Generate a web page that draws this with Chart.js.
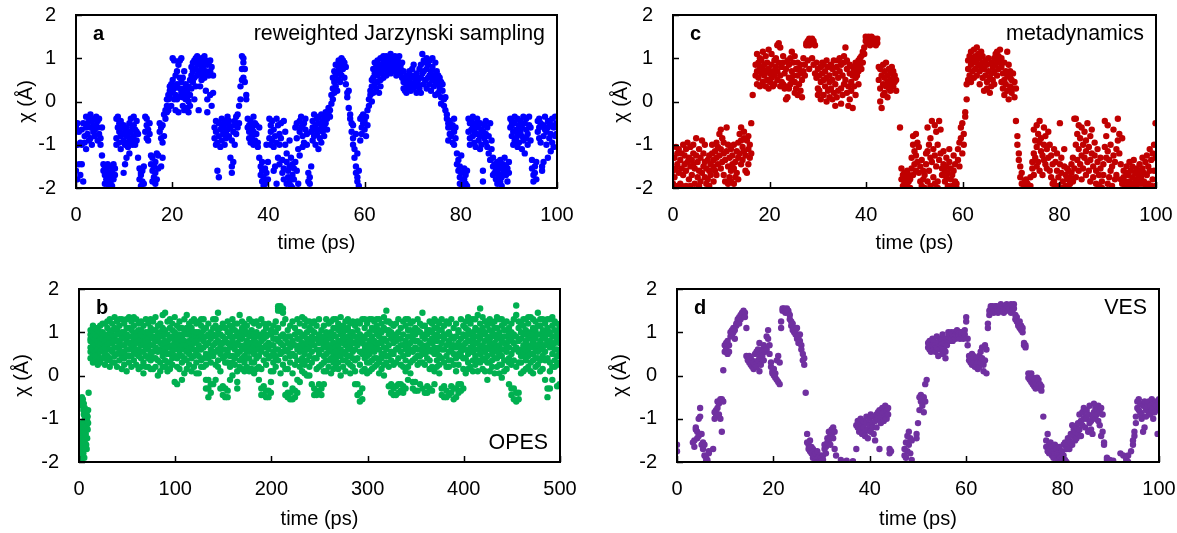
<!DOCTYPE html>
<html>
<head>
<meta charset="utf-8">
<script src="https://cdn.jsdelivr.net/npm/chart.js@4.4.1/dist/chart.umd.min.js"></script>
<style>
  body { margin: 0; background: #fff; width: 1177px; height: 533px; position: relative; overflow: hidden; }
  canvas { position: absolute; }
</style>
</head>
<body>
<canvas id="panelA" width="590" height="265" style="left:0;top:0"></canvas>
<canvas id="panelC" width="587" height="265" style="left:590px;top:0"></canvas>
<canvas id="panelB" width="590" height="263" style="left:0;top:270px"></canvas>
<canvas id="panelD" width="587" height="263" style="left:590px;top:270px"></canvas>
<script>
// axis ranges and ticks
const chiRange = [-2, 2];
const chiStep = 1;
const shortTime = [0, 100];
const shortStep = 20;
const longTime = [0, 500];
const longStep = 100;

// each row: [time (ps), chi values sampled around that time ...]
const jarzynskiRows = [
  [0.0,-0.6,-1.6],[0.3,-1.0,-1.8,-0.5],[0.6,-0.7,-1.45],[0.9,-0.95,-1.7],[1.2,-0.65,-1.45,-1.0],[1.5,-0.5,-1.85],
  [1.8,-0.8,-0.95],[2.1,-0.35,-0.6,-1.1],[2.4,-0.75,-0.5],[2.7,-0.4,-0.9],[3.0,-0.6,-0.85,-0.3],[3.3,-0.45,-1.0],
  [3.6,-0.7,-0.55],[3.9,-0.4,-0.8,-0.65],[4.2,-0.35,-0.55],[4.5,-0.6,-0.9,-0.45],[4.8,-0.75,-0.4],[5.1,-0.85,-1.0],
  [5.4,-0.6,-1.25],[5.7,-1.45,-1.6],[6.0,-1.5,-1.7,-1.9],[6.3,-1.55,-1.8],[6.6,-1.65,-1.45,-1.9],[6.9,-1.75,-1.95],
  [7.2,-1.5,-1.85],[7.5,-1.6,-1.7,-1.95],[7.8,-1.45,-1.8],[8.1,-1.55,-1.7],[8.4,-0.4,-1.0,-0.85],[8.7,-0.35,-0.6],
  [9.0,-0.5,-0.7,-0.95],[9.3,-0.45,-0.8,-1.1],[9.6,-0.75,-0.6],[9.9,-0.9,-0.55,-1.65],[10.2,-0.7,-1.0,-1.45],
  [10.5,-0.8,-0.6,-1.3],[10.8,-0.95,-1.05,-0.75],[11.1,-0.5,-0.85,-1.2],[11.4,-0.4,-0.7],[11.7,-0.6,-0.9,-1.0],
  [12.0,-0.35,-0.55,-0.8],[12.3,-0.65,-1.0],[12.6,-0.45,-0.7,-0.9],[12.9,-0.75,-1.3],[13.2,-1.55,-1.8],
  [13.5,-1.65,-1.95,-1.7],[13.8,-1.85,-1.6],[14.1,-1.5,-1.9],[14.4,-0.35,-0.7],[14.7,-0.55,-0.85,-0.4],
  [15.0,-0.65,-0.9],[15.3,-0.75,-0.5],[15.6,-1.25,-1.45],[15.9,-1.3,-1.6,-1.85],[16.2,-1.5,-1.75],
  [16.5,-1.4,-1.9,-1.65],[16.8,-1.8,-1.2],[17.1,-1.25,-1.55],[17.4,-0.5,-0.7],[17.7,-0.6,-0.85,-1.5],
  [18.0,-0.55,-0.95,-1.3],[18.3,-0.8,-0.3],[18.6,-0.4,-0.2],[18.9,-0.25,-0.1,0.05],[19.2,0.05,0.15,-0.2],
  [19.5,0.1,0.25,0.35],[19.8,0.2,0.4,-0.1],[20.1,0.25,0.5,1.0],[20.4,0.05,0.95,0.3],[20.7,0.6,0.15,-0.2],
  [21.0,0.4,0.7,0.05],[21.3,0.1,0.85,-0.25],[21.6,0.3,0.55,0.95],[21.9,0.2,1.0,0.45],[22.2,-0.1,0.1,0.55],
  [22.5,0.3,-0.2,0.7],[22.8,0.05,0.2,0.4],[23.1,-0.15,0.1,0.25],[23.4,0.0,-0.25,0.35],[23.7,0.15,0.5,-0.1],
  [24.0,0.6,0.3,0.8],[24.3,0.7,0.9,0.45],[24.6,0.95,0.55,0.05],[24.9,0.75,1.0,0.35],[25.2,0.6,0.85,1.05],
  [25.5,-0.2,0.9,0.7],[25.8,0.35,0.65,0.95],[26.1,0.5,1.0,0.8],[26.4,0.75,0.9,0.6],[26.7,1.05,0.85,0.55],
  [27.0,0.95,0.7,0.25],[27.3,-0.25,0.05,0.85],[27.6,0.9,0.6],[27.9,0.7,0.95,0.15],[28.2,0.8,-0.1],[28.5,0.6,0.2],
  [28.8,-0.6,-0.85],[29.1,-0.7,-1.0,-0.45],[29.4,-0.95,-1.6],[29.7,-0.5,-0.8,-1.75],[30.0,-0.65,-1.05],
  [30.3,-0.55,-0.9,-0.4],[30.6,-0.75,-0.6],[30.9,-0.45,-1.0],[31.2,-0.7,-0.5,-0.85],[31.5,-0.35,-0.65],
  [31.8,-0.55,-0.8,-0.45],[32.1,-1.3,-0.6],[32.4,-1.5,-1.65,-0.9],[32.7,-0.7,-1.4],[33.0,-0.45,-0.55,-1.0],
  [33.3,-0.35,-0.75],[33.6,-0.6,-0.3],[33.9,-0.1,-0.5],[34.2,0.05,0.35],[34.5,0.5,0.75,1.05],[34.8,0.9,1.0,0.55],
  [35.1,0.75,0.45],[35.4,0.05,0.15],[35.7,-0.4,-0.6],[36.0,-0.7,-0.55,-0.85],[36.3,-0.45,-0.95],[36.6,-0.6,-0.8],
  [36.9,-0.35,-0.7,-1.0],[37.2,-0.5,-0.9],[37.5,-0.75,-0.55],[37.8,-0.95,-1.05],[38.1,-1.3,-0.6],[38.4,-1.5,-1.7],
  [38.7,-1.6,-1.85,-1.4],[39.0,-1.75,-1.95],[39.3,-1.55,-1.9],[39.6,-1.65,-1.0],[39.9,-1.4,-1.8],[40.2,-0.4,-0.85],
  [40.5,-0.55,-1.0,-0.7],[40.8,-0.9,-0.45],[41.1,-0.65,-1.05,-1.6],[41.4,-0.8,-1.5],[41.7,-0.4,-1.9,-0.95],
  [42.0,-0.55,-1.3],[42.3,-0.75,-1.45,-1.0],[42.6,-0.5,-0.85],[42.9,-1.35,-1.65],[43.2,-0.45,-1.55,-1.8],
  [43.5,-0.7,-1.0],[43.8,-1.2,-1.4,-1.9],[44.1,-1.6,-1.75],[44.4,-1.5,-1.85,-0.9],[44.7,-1.3,-1.95],
  [45.0,-1.7,-1.45,-2.0],[45.3,-1.55,-1.8],[45.6,-0.6,-1.4],[45.9,-0.5,-0.85,-1.6],[46.2,-1.1,-1.9],
  [46.5,-0.45,-0.7,-1.25],[46.8,-0.35,-0.6],[47.1,-0.8,-0.55,-1.05],[47.4,-0.5,-0.95],[47.7,-0.65,-0.4],
  [48.0,-0.75,-1.0],[48.3,-1.65,-1.85],[48.6,-1.75,-1.9],[48.9,-0.7,-1.5],[49.2,-0.45,-0.6,-0.9],[49.5,-0.3,-0.8],
  [49.8,-0.55,-1.0,-0.65],[50.1,-0.4,-0.75],[50.4,-0.5,-0.35,-1.1],[50.7,-0.65,-0.85],[51.0,-0.3,-0.55,-0.95],
  [51.3,-0.45,-0.7],[51.6,-0.35,-0.6,-0.8],[51.9,-0.5,-0.25],[52.2,-0.4,-0.65],[52.5,-0.3,-0.15],[52.8,-0.35,-0.2],
  [53.1,-0.05,0.15],[53.4,0.3,0.55,0.05],[53.7,0.45,0.7,0.2],[54.0,0.6,0.35,0.85],[54.3,0.25,0.65],
  [54.6,0.8,0.5,0.95],[54.9,0.7,0.45,0.9],[55.2,0.85,1.0,0.6],[55.5,0.75,0.95],[55.8,0.9,0.55],[56.1,0.8,0.4],
  [56.4,0.2,0.1],[56.7,-0.15,0.25],[57.0,-0.3,-0.4],[57.3,-0.5,-0.7],[57.6,-0.85,-1.0,-0.55],[57.9,-1.1,-1.3],
  [58.2,-1.5,-1.65,-0.75],[58.5,-1.75,-1.85,-1.2],[58.8,-1.95,-1.6],[59.1,-0.9,-0.4],[59.4,-0.6,-0.35,-0.75],
  [59.7,-0.3,-0.5],[60.0,-0.65,-0.45],[60.3,-0.35,-0.8],[60.6,-0.55,-0.2],[60.9,-0.1,0.05],[61.2,0.25,0.15],
  [61.5,0.35,0.5,0.0],[61.8,0.55,0.75,0.2],[62.1,0.4,0.9,0.65],[62.4,0.3,0.8],[62.7,0.6,0.95,0.45],
  [63.0,0.7,0.2,0.85],[63.3,0.5,1.0,0.35],[63.6,0.8,0.65],[63.9,0.9,1.05,0.55],[64.2,0.75,0.95],
  [64.5,0.85,1.05,0.6],[64.8,0.7,0.95,0.8],[65.1,1.0,0.75,0.9],[65.4,0.85,1.1,0.65],[65.7,0.95,0.8],
  [66.0,0.7,1.0,0.85],[66.3,0.9,0.75,1.05],[66.6,0.6,0.85],[66.9,0.95,0.8,0.7],[67.2,1.05,0.9],
  [67.5,0.75,0.85,0.65],[67.8,0.55,0.9],[68.1,0.45,0.7,0.3],[68.4,0.25,0.55],[68.7,0.35,0.6,0.2],[69.0,0.45,0.3],
  [69.3,0.5,0.7],[69.6,0.35,0.6,0.25],[69.9,0.4,0.75],[70.2,0.3,0.55,0.85],[70.5,0.6,0.45],[70.8,0.2,0.65,0.35],
  [71.1,0.5,0.4],[71.4,0.75,0.3],[71.7,0.85,0.2,0.55],[72.0,1.1,0.65],[72.3,0.95,0.7,0.4],[72.6,0.9,0.5],
  [72.9,0.75,1.0,0.3],[73.2,0.85,0.55],[73.5,0.95,0.6,0.4],[73.8,0.7,0.25],[74.1,0.8,1.0,0.5],[74.4,0.6,0.35],
  [74.7,0.9,0.45,0.15],[75.0,0.7,0.5],[75.3,0.4,0.6,0.2],[75.6,0.55,0.3],[75.9,0.1,0.45,-0.05],[76.2,0.25,0.4],
  [76.5,0.05,-0.1],[76.8,-0.2,0.1],[77.1,-0.3,-0.4],[77.4,-0.5,-0.6,-0.9],[77.7,-0.45,-0.75],[78.0,-0.8,-0.6],
  [78.3,-0.55,-0.95],[78.6,-0.7,-1.0,-0.4],[78.9,-0.85,-0.6],[79.2,-1.2,-1.45],[79.5,-1.35,-1.6],
  [79.8,-1.5,-1.75,-1.9],[80.1,-1.25,-1.65],[80.4,-1.85,-1.95],[80.7,-1.55,-1.8],[81.0,-1.7,-1.9],[81.3,-1.6,-1.95],
  [81.6,-0.4,-0.7],[81.9,-0.5,-0.85,-1.0],[82.2,-0.65,-0.45],[82.5,-0.8,-0.55,-0.35],[82.8,-0.95,-0.7],
  [83.1,-0.6,-1.05,-0.5],[83.4,-0.75,-0.4],[83.7,-0.9,-0.6],[84.0,-0.5,-0.8,-1.1],[84.3,-0.65,-1.0],
  [84.6,-1.6,-1.85,-0.7],[84.9,-0.55,-0.85],[85.2,-0.45,-0.75,-0.95],[85.5,-0.6,-1.05],[85.8,-1.2,-0.8],
  [86.1,-1.35,-0.5],[86.4,-0.9,-1.1],[86.7,-1.5,-1.3,-1.7],[87.0,-1.45,-1.65],[87.3,-1.8,-1.55],
  [87.6,-1.6,-1.4,-1.9],[87.9,-1.7,-1.5],[88.2,-1.85,-1.35],[88.5,-1.55,-1.75,-1.95],[88.8,-1.45,-1.65],
  [89.1,-1.3,-1.6],[89.4,-1.7,-1.5],[89.7,-1.55,-1.85],[90.0,-1.65,-1.4],[90.3,-0.6,-0.4],[90.6,-0.8,-0.55,-0.45],
  [90.9,-0.7,-1.0],[91.2,-0.5,-0.9,-0.35],[91.5,-0.65,-0.85],[91.8,-0.4,-0.75,-1.05],[92.1,-0.55,-0.95],
  [92.4,-0.45,-0.7],[92.7,-0.8,-0.6,-1.1],[93.0,-0.35,-0.9],[93.3,-0.5,-1.2],[93.6,-0.65,-0.4,-0.85],
  [93.9,-0.75,-1.0],[94.2,-0.55,-0.35],[94.5,-0.9,-0.6],[94.8,-1.35,-1.55],[95.1,-1.7,-1.85],[95.4,-1.5,-1.65],
  [95.7,-1.8,-1.4],[96.0,-0.45,-0.7],[96.3,-0.6,-0.85,-0.4],[96.6,-0.5,-0.95],[96.9,-1.5,-1.6],
  [97.2,-0.8,-1.4,-0.55],[97.5,-0.65,-0.35],[97.8,-0.7,-1.0],[98.1,-0.45,-0.6,-1.3],[98.4,-0.5,-0.85],
  [98.7,-0.75,-1.15],[99.0,-0.4,-0.95,-0.55],[99.3,-0.6,-1.05],[99.6,-0.35,-0.8],[99.9,-0.5,-0.75]
];

const metadynamicsRows = [
  [0.0,-1.6,-1.9],[0.3,-1.3,-2.0,-1.75],[0.6,-1.05,-1.55],[0.9,-1.45,-1.95,-1.2],[1.2,-1.65,-1.1],[1.5,-1.35,-1.9],
  [1.8,-1.2,-1.55,-1.95],[2.1,-1.0,-1.7],[2.4,-1.45,-1.25],[2.7,-1.6,-1.95,-1.1],[3.0,-1.4,-0.95],[3.3,-1.8,-1.3],
  [3.6,-1.5,-1.05,-1.95],[3.9,-1.35,-1.7],[4.2,-1.2,-1.45,-1.0],[4.5,-1.9,-1.55],[4.8,-0.85,-1.25],[5.1,-1.4,-1.75],
  [5.4,-1.6,-1.1,-1.95],[5.7,-1.3,-1.85],[6.0,-0.9,-1.65],[6.3,-1.5,-1.2],[6.6,-1.75,-1.4,-1.0],[6.9,-1.55,-1.9],
  [7.2,-1.35,-1.8],[7.5,-1.6,-1.95,-1.25],[7.8,-1.45,-1.7],[8.1,-1.2,-1.0],[8.4,-1.5,-1.35,-1.85],[8.7,-1.15,-1.6],
  [9.0,-0.95,-1.3,-1.7],[9.3,-1.45,-1.05],[9.6,-0.75,-1.25],[9.9,-1.55,-0.65,-1.1],[10.2,-0.85,-1.4],
  [10.5,-1.2,-1.7,-0.95],[10.8,-1.35,-1.85],[11.1,-0.6,-1.15],[11.4,-1.0,-1.5,-1.9],[11.7,-1.3,-1.75],
  [12.0,-1.1,-1.6,-1.85],[12.3,-1.25,-1.45],[12.6,-1.55,-1.9,-1.0],[12.9,-1.4,-1.75],[13.2,-1.65,-1.15],
  [13.5,-0.95,-1.3,-1.8],[13.8,-0.75,-1.2],[14.1,-0.9,-1.45,-0.6],[14.4,-1.05,-1.35],[14.7,-0.7,-1.15,-0.85],
  [15.0,-1.25,-1.6],[15.3,-0.9,-1.65],[15.6,-1.1,-0.8,-1.45],[15.9,-1.0,-1.3],[16.2,-0.5,-1.2],[16.5,0.15],
  [17.1,0.6,0.85],[17.4,0.7,1.1,0.4],[17.7,0.55,0.9],[18.0,0.8,0.35,1.0],[18.3,0.65,0.95],[18.6,0.45,0.75,1.15],
  [18.9,0.6,0.85],[19.2,0.35,0.7,1.05],[19.5,0.5,0.9],[19.8,0.75,0.3,1.2],[20.1,0.65,0.45],[20.4,0.85,1.1,0.55],
  [20.7,0.35,0.7],[21.0,0.95,0.6,0.4],[21.3,0.8,1.0],[21.6,0.5,1.3,0.7],[21.9,1.35,0.9],[22.2,0.6,1.25,0.35],
  [22.5,0.8,0.45],[22.8,0.9,0.4,1.05],[23.1,0.3,0.65],[23.4,0.05,0.75,0.35],[23.7,0.1,0.95],[24.0,0.55,0.85,0.3],
  [24.3,1.0,0.4],[24.6,0.7,1.15,0.5],[24.9,0.9,0.6],[25.2,0.45,1.05,0.2],[25.5,0.75,0.3],[25.8,0.15,0.6,0.9],
  [26.1,0.4,0.75],[26.4,0.65,0.25,0.85],[26.7,0.5,0.1],[27.0,0.7,1.0],[27.3,0.6,0.85],[27.6,1.3,1.35],
  [27.9,1.4,0.95],[28.2,1.3,1.45,0.75],[28.5,1.35,1.4],[28.8,1.45,1.0],[29.1,1.4,1.35,0.85],[29.4,1.3,0.65],
  [29.7,0.9,0.55],[30.0,0.3,0.75,0.15],[30.3,0.25,0.6],[30.6,0.8,0.05,0.45],[30.9,0.65,0.9],[31.2,0.15,0.5,0.85],
  [31.5,0.35,0.7],[31.8,0.0,0.55,0.95],[32.1,0.25,0.8],[32.4,0.6,0.1,0.45],[32.7,0.85,0.3],[33.0,0.05,0.5,0.75],
  [33.3,0.2,0.95],[33.6,0.65,-0.1,0.4],[33.9,0.1,0.8],[34.2,0.55,0.95,0.25],[34.5,1.0,0.7],[34.8,0.3,0.85,-0.05],
  [35.1,0.6,0.15],[35.4,0.9,1.05,0.4],[35.7,0.5,1.25],[36.0,0.2,0.75,0.95],[36.3,0.35,-0.1],[36.6,0.65,0.05,0.85],
  [36.9,0.45,0.25],[37.2,0.8,0.6,-0.15],[37.5,0.35,0.7],[37.8,0.15,0.55,0.9],[38.1,0.6,0.8],[38.4,0.4,0.95,0.7],
  [38.7,0.85,1.0],[39.0,0.75,1.05],[39.3,0.9,1.15],[39.6,1.1,1.25],[39.9,1.4,1.5],[40.2,1.45,1.35],[40.5,1.5,1.4],
  [40.8,1.45,1.3],[41.1,1.4,1.5],[41.4,1.35,1.45],[41.7,1.45,1.4],[42.0,1.3,1.4],[42.3,1.45,1.35],[42.6,0.8,0.5],
  [42.9,0.3,0.75,0.0],[43.2,0.6,-0.15],[43.5,0.85,0.4,0.15],[43.8,0.55,0.2,0.7],[44.1,0.9,0.35],[44.4,0.45,0.6,0.1],
  [44.7,0.75,0.3],[45.0,0.5,0.65,0.25],[45.3,0.8,0.4],[45.6,0.55,0.35,0.7],[45.9,0.45,0.6],[46.2,0.25,0.5],
  [47.0,-0.6],[47.3,-1.55,-1.8],[47.6,-1.7,-1.95],[47.9,-1.85,-1.65,-2.0],[48.2,-1.75,-1.9],[48.5,-1.95,-1.6],
  [48.8,-1.7,-1.85],[49.1,-2.0,-1.8],[49.4,-1.3,-1.55],[49.7,-0.8,-1.0,-1.7],[50.0,-1.15,-1.45],
  [50.3,-0.75,-1.6,-1.25],[50.6,-1.4,-0.95],[50.9,-1.05,-1.65],[51.2,-1.5,-1.85],[51.5,-1.35,-1.95],
  [51.8,-1.8,-1.6],[52.1,-1.7,-2.0],[52.4,-1.2,-1.45],[52.7,-0.6,-1.15,-1.85],[53.0,-1.0,-1.6],
  [53.3,-0.85,-1.3,-1.95],[53.6,-0.45,-1.4],[53.9,-1.1,-1.75],[54.2,-0.55,-1.25,-1.9],[54.5,-0.7,-1.5],
  [54.8,-1.0,-1.85,-2.0],[55.1,-0.45,-1.35],[55.4,-0.65,-1.2],[55.7,-1.55,-1.7],[56.0,-1.15,-1.45],
  [56.3,-1.6,-1.85],[56.6,-1.3,-1.75,-1.5],[56.9,-1.95,-1.65],[57.2,-1.4,-1.1],[57.5,-1.8,-1.55],[57.8,-1.7,-1.95],
  [58.1,-1.25,-1.6],[58.4,-1.85,-1.45],[58.7,-1.9,-2.0],[59.0,-1.1,-1.35],[59.3,-0.95,-1.5],[59.6,-0.6,-0.85],
  [59.9,-1.2,-0.5],[60.2,-0.75,-1.0],[60.5,-0.35,-0.25],[60.8,0.05,0.4],[61.1,0.5,0.75,0.95],[61.4,0.6,1.05],
  [61.7,0.85,0.45,1.15],[62.0,0.7,1.0],[62.3,0.9,0.55,1.2],[62.6,0.75,1.05],[62.9,1.25,0.95,0.6],[63.2,0.85,1.1],
  [63.5,0.4,1.0,0.7],[63.8,1.15,0.8],[64.1,0.55,0.9,1.05],[64.4,0.25,0.75],[64.7,0.95,0.6],[65.0,0.3,0.85,0.45],
  [65.3,0.7,1.0],[65.6,0.55,0.2],[65.9,0.65,0.9,0.35],[66.2,0.8,0.5],[66.5,1.0,0.7,0.4],[66.8,0.85,1.1],
  [67.1,0.6,0.95,1.15],[67.4,1.05,0.75],[67.7,1.2,0.9],[68.0,0.45,0.8,1.0],[68.3,0.3,0.65],[68.6,0.9,0.15,0.5],
  [68.9,0.7,0.4],[69.2,1.15,0.25,0.6],[69.5,0.85,0.05],[69.8,0.55,0.35,0.7],[70.1,0.2,0.5],[70.4,0.65,0.3],
  [70.7,0.45,0.1],[71.0,-0.45,0.3],[71.3,-0.8,-1.0],[71.6,-1.2,-1.35],[71.9,-1.5,-1.75],[72.2,-1.65,-1.9],
  [72.8,-1.85,-2.0],[73.1,-1.95,-1.8],[73.4,-2.0,-1.9],[74.0,-1.75,-1.95],[74.4,-1.4,-1.55],[74.7,-0.65,-1.2,-1.7],
  [75.0,-0.9,-1.3],[75.3,-0.55,-1.05,-1.5],[75.6,-0.75,-1.4],[75.9,-0.45,-0.95,-1.6],[76.2,-1.15,-0.85],
  [76.5,-1.25,-1.7],[76.8,-0.6,-1.0,-1.35],[77.1,-1.45,-0.8],[77.4,-1.1,-1.55],[77.7,-0.7,-1.3],[78.0,-1.6,-1.0],
  [78.3,-1.25,-1.75],[78.6,-1.9,-1.45],[78.9,-1.1,-1.85],[79.2,-1.4,-1.95],[79.5,-1.6,-1.2],[79.8,-1.75,-1.95],
  [80.1,-0.5,-1.45],[80.4,-1.3,-1.65],[80.7,-1.85,-2.0],[81.0,-1.1,-1.5],[81.3,-1.95,-1.7],[81.6,-1.8,-1.55],
  [81.9,-2.0,-1.6],[82.2,-1.75,-1.9],[82.5,-1.45,-1.65],[82.8,-1.3,-1.85],[83.1,-0.4,-1.55],[83.4,-0.4,-1.0,-1.75],
  [83.7,-0.75,-1.35],[84.0,-1.1,-1.6,-0.55],[84.3,-0.85,-1.45],[84.6,-1.25,-0.6,-1.8],[84.9,-1.0,-1.55],
  [85.2,-0.7,-1.3],[85.5,-1.15,-1.7,-0.9],[85.8,-0.5,-1.4],[86.1,-1.05,-1.6],[86.4,-0.8,-1.35,-1.85],
  [86.7,-1.2,-0.65],[87.0,-1.5,-1.75],[87.3,-0.95,-1.25],[87.6,-1.6,-1.9],[87.9,-1.4,-1.1],[88.2,-1.7,-1.95],
  [88.5,-1.3,-1.55],[88.8,-1.85,-2.0],[89.1,-1.45,-1.7],[89.4,-0.45,-1.05],[89.7,-0.8,-1.3],[90.0,-0.55,-1.15,-1.9],
  [90.3,-1.35,-1.75],[90.6,-1.0,-1.6],[90.9,-1.5,-1.95],[91.2,-0.65,-1.25],[91.5,-1.8,-1.4],[91.8,-1.1,-1.7],
  [92.1,-0.4,-0.9],[92.4,-0.75,-1.2],[92.7,-1.45,-1.8],[93.0,-1.9,-0.85],[93.3,-1.6,-1.75],[93.6,-1.85,-2.0],
  [93.9,-1.65,-1.5],[94.2,-1.95,-1.7],[94.5,-1.4,-1.85],[94.8,-1.6,-1.95],[95.1,-1.75,-1.5],[95.4,-1.35,-1.9],
  [95.7,-1.65,-1.8],[96.0,-1.95,-1.55],[96.3,-1.7,-1.85],[96.6,-1.45,-1.6],[96.9,-1.9,-1.75],[97.2,-1.55,-1.3],
  [97.5,-1.85,-1.65],[97.8,-1.4,-1.95],[98.1,-1.25,-1.7],[98.4,-1.5,-1.9],[98.7,-1.1,-1.6],[99.0,-1.95,-1.35],
  [99.3,-1.8,-1.2],[99.6,-1.0,-1.6],[99.9,-0.5,-1.95,-1.3]
];

const opesRows = [
  [0.0,-1.8,-2.0,-1.7],[0.5,-1.5,-1.9,-1.4],[1.0,-1.85,-1.6],[1.5,-1.4,-1.95,-1.3],[2.0,-2.0,-1.75],
  [2.5,-1.35,-1.55,-1.1],[3.0,-0.5,-0.6,-1.2,-1.9],[3.5,-0.7,-1.45],[4.0,-0.55,-1.25,-1.65],[4.5,-0.8,-1.4,-1.8],
  [5.0,-0.65,-0.9,-1.55],[5.5,-1.1,-1.3,-1.9],[6.0,-0.75,-1.0,-1.5],[6.5,-1.2,-1.7],[7.0,-0.85,-1.35],
  [7.5,-1.0,-1.6],[8.0,-0.9,-1.15,-1.7],[8.5,-1.05,-1.45],[9.0,-0.95,-1.25],[9.5,-0.8,-1.1],[10.0,-0.4],
  [12,0.65,0.95,0.4,1.05,0.8,0.55,0.85],[14.5,0.75,0.5,1.0,0.9,0.6,0.3,1.15],[17,0.55,0.85,1.1,0.35,0.7,0.95,0.45],
  [19.5,0.9,0.45,0.65,1.05,0.8,0.6,0.25],[22,0.3,0.7,1.15,0.85,0.55,1.0,0.4],[24.5,0.6,1.0,0.4,0.95,0.75,0.85,1.2],
  [27,0.8,0.25,1.2,0.5,0.65,0.95,0.4],[29.5,0.45,0.9,1.1,0.7,0.35,0.6,1.25],[32,1.3,0.6,0.85,0.4,1.0,0.75,0.2],
  [34.5,0.55,1.2,0.3,0.75,0.95,1.05,0.6],[37,0.9,0.45,1.35,0.65,1.1,0.8,0.3],[39.5,0.2,0.8,1.05,0.5,1.25,0.65,0.95],
  [42,0.7,1.15,0.35,0.95,0.6,0.8,1.3],[44.5,1.3,0.5,0.85,0.15,1.0,0.7,0.4],[47,0.4,1.2,0.7,0.9,0.55,1.0,0.25],
  [49.5,0.1,0.95,1.3,0.6,0.8,0.45,1.1],[52,1.1,0.45,0.75,1.35,0.3,0.9,0.6],[54.5,0.65,1.25,0.2,0.9,1.05,0.75,0.45],
  [57,0.85,0.35,1.35,0.55,1.15,0.7,0.95],[59.5,0.5,1.0,0.75,1.3,0.25,0.9,0.6],[62,1.2,0.6,0.9,0.15,0.8,1.05,0.45],
  [64.5,0.4,1.05,0.7,1.25,0.95,0.55,0.2],[67,0.8,0.3,1.15,0.55,0.05,0.9,0.7],[69.5,1.3,0.65,0.9,0.45,1.0,0.2,0.8],
  [72,0.2,0.85,1.2,0.6,0.75,1.0,0.4],[74.5,1.1,0.5,0.95,0.35,1.3,0.7,0.15],[77,0.7,1.25,0.15,0.85,0.55,1.05,0.4],
  [79.5,0.9,0.4,1.35,0.65,1.05,0.2,0.8],[82,0.55,1.15,0.8,0.0,0.95,0.6,0.35],[84.5,1.2,0.6,0.3,1.0,0.75,0.9,0.1],
  [87,0.45,0.9,1.4,0.7,0.2,1.1,0.55],[89.5,1.05,0.35,0.8,1.45,0.6,0.95,0.2],[92,0.75,1.25,0.5,0.1,0.95,0.65,0.3],
  [94.5,0.3,1.1,0.65,0.85,1.3,0.15,0.5],[97,0.9,0.55,1.2,0.25,0.7,1.05,0.4],[99.5,0.6,1.0,-0.15,0.8,1.35,0.45,0.7],
  [102,0.4,0.85,1.15,0.65,-0.2,0.2,0.95],[104.5,1.25,0.5,0.95,0.15,0.75,0.6,1.1],[107,0.7,-0.1,1.1,0.45,0.9,0.3,0.8],
  [109.5,0.05,0.8,1.3,0.6,1.0,0.4,0.7],[112,0.95,0.35,1.4,0.7,0.55,0.15,1.1],[114.5,0.5,1.2,0.8,0.25,1.05,0.6,0.95],
  [117,1.1,0.65,0.1,0.9,0.4,1.25,0.75],[119.5,0.75,1.3,0.45,1.0,0.6,0.2,0.85],[122,0.3,0.9,1.2,0.55,0.8,0.05,1.0],
  [124.5,1.0,0.45,0.7,1.25,0.05,0.6,0.85],[127,0.6,1.15,0.85,0.35,0.95,0.2,1.3],[129.5,0.8,0.2,1.05,0.65,1.3,0.4,0.9],
  [132,-0.3,0.5,0.9,1.1,0.7,0.25,-0.1],[134.5,-0.5,-0.1,0.75,1.2,0.4,0.95,-0.3],[137,0.6,-0.4,1.0,0.85,0.3,0.5,-0.2],
  [139.5,1.3,0.45,-0.2,0.7,0.95,1.1,0.55],[142,0.9,0.25,1.15,0.55,0.75,-0.1,1.3],[144.5,0.35,1.45,0.8,0.6,1.05,0.2,0.95],
  [147,1.1,0.65,0.1,0.95,0.5,0.75,-0.3],[149.5,0.75,-0.25,1.2,0.4,0.9,0.6,-0.45],[152,-0.5,0.3,0.85,1.1,0.6,-0.3,0.45],
  [154.5,0.55,-0.35,1.0,0.75,1.25,0.3,-0.5],[157,0.2,0.9,0.65,1.15,-0.1,0.45,1.0],[159.5,0.8,0.45,1.3,0.0,0.7,1.1,0.3],
  [162,1.05,0.6,0.25,0.9,0.4,0.7,1.2],[164.5,0.5,1.2,-0.3,0.75,0.95,0.1,-0.15],[167,1.4,0.7,0.35,1.0,0.55,0.85,0.2],
  [169.5,0.85,0.15,1.1,0.6,1.25,0.4,0.9],[172,0.45,0.95,0.7,1.2,0.3,1.05,0.1],[174.5,1.0,0.55,0.2,0.8,1.15,0.4,0.65],
  [177,0.65,1.3,0.9,0.4,0.1,0.75,0.55],[179.5,0.3,0.75,1.05,0.6,0.95,0.15,1.25],[182,1.2,0.5,0.85,0.05,0.7,0.95,0.3],
  [184.5,0.6,1.25,0.4,0.9,1.0,0.15,0.75],[187,0.9,0.2,0.7,1.15,0.45,-0.1,0.6],[189.5,0.15,0.8,1.3,-0.3,0.55,0.95,-0.45],
  [192,-0.45,0.65,1.0,0.35,0.85,-0.25,1.2],[194.5,0.5,-0.5,0.9,1.1,0.25,-0.35,0.7],[197,-0.35,0.75,0.4,1.2,0.6,-0.5,0.95],
  [199.5,0.95,0.1,0.7,1.05,-0.15,0.45,-0.4],[202,0.55,1.15,0.3,0.85,0.7,0.1,1.0],[204.5,1.0,0.45,1.25,0.6,0.2,0.85,0.4],
  [207,1.55,1.6,0.8,0.35,1.1,1.5,0.6],[209.5,1.5,1.6,0.9,0.5,0.05,1.55,0.75],[212,1.45,0.7,1.2,0.25,0.95,0.55,1.55],
  [214.5,0.6,1.3,-0.2,0.85,0.4,0.15,-0.45],[217,-0.4,0.75,1.05,0.15,0.55,-0.5,0.9],[219.5,0.3,-0.55,0.9,1.15,0.65,-0.4,0.45],
  [222,0.8,0.05,-0.3,1.25,0.5,-0.55,0.7],[224.5,1.1,0.45,-0.5,0.7,0.95,0.25,-0.35],[227,0.35,-0.1,0.85,1.3,0.6,-0.4,1.0],
  [229.5,0.7,1.0,0.2,0.55,1.2,-0.15,0.85],[232,1.35,0.4,0.75,0.95,0.1,0.6,0.3],[234.5,0.5,0.9,1.15,0.25,0.7,0.05,1.3],
  [237,0.85,1.25,0.6,0.0,1.0,0.35,0.75],[239.5,0.2,0.65,1.1,0.8,0.45,1.25,0.0],[242,1.2,0.55,0.9,0.3,-0.2,0.75,1.05],
  [244.5,-0.45,0.7,1.0,0.4,1.25,-0.3,0.85],[247,0.6,-0.35,0.85,1.15,0.15,-0.45,0.4],[249.5,-0.4,0.95,0.5,1.3,0.75,0.2,-0.2],
  [252,0.8,0.25,-0.3,1.05,0.6,-0.45,0.9],[254.5,1.15,0.45,0.7,0.1,0.9,0.3,-0.2],[257,0.35,1.0,1.3,0.65,0.8,0.1,0.5],
  [259.5,0.9,0.55,0.2,1.2,0.7,0.95,0.35],[262,0.6,1.25,0.85,0.4,1.0,0.05,0.7],[264.5,0.15,0.75,1.1,0.5,0.95,1.3,0.3],
  [267,1.3,0.4,0.65,0.9,0.25,1.1,0.55],[269.5,0.7,1.05,0.3,0.8,1.2,0.5,0.15],[272,0.45,0.95,1.35,0.6,0.0,0.8,1.1],
  [274.5,1.0,0.2,0.75,1.15,0.55,0.35,0.9],[277,0.85,0.5,1.25,0.35,0.7,0.1,1.05],[279.5,0.3,1.1,0.6,0.9,1.3,0.45,0.75],
  [282,1.2,0.65,0.05,0.8,0.45,1.0,0.25],[284.5,0.55,1.0,0.75,1.25,0.2,0.4,0.9],[287,0.9,0.35,1.15,0.6,-0.2,0.75,0.1],
  [289.5,-0.45,0.7,1.05,0.4,0.85,-0.2,1.25],[292,-0.6,0.25,0.95,1.2,0.55,-0.4,0.8],[294.5,0.75,-0.3,1.3,0.5,0.9,-0.55,0.1],
  [297,1.1,0.6,0.15,0.85,0.4,1.3,0.7],[299.5,0.45,0.95,1.2,0.7,0.3,0.05,0.55],[302,0.8,1.3,0.5,0.1,1.0,0.65,0.3],
  [304.5,0.35,0.7,1.1,0.9,0.6,0.15,1.3],[307,1.25,0.55,0.2,0.8,1.05,0.4,0.65],[309.5,0.65,1.15,0.4,0.95,0.75,0.25,1.3],
  [312,0.9,0.3,1.3,0.6,0.05,0.75,1.05],[314.5,0.5,1.0,0.75,1.2,0.4,0.15,0.85],[317,1.35,0.65,0.25,0.85,1.1,0.5,0.0],
  [319.5,1.5,0.8,0.45,1.05,0.6,0.3,1.25],[322,0.2,0.95,0.7,1.25,-0.25,0.45,1.05],[324.5,-0.4,0.55,1.0,0.85,0.35,-0.2,1.2],
  [327,0.75,-0.3,1.15,0.5,0.9,0.25,-0.45],[329.5,-0.45,0.6,0.3,1.2,0.8,-0.25,0.95],[332,1.0,-0.2,0.65,0.4,1.3,0.85,-0.4],
  [334.5,0.85,0.25,-0.35,1.1,0.55,0.7,-0.2],[337,0.45,1.25,0.7,-0.4,0.95,0.2,-0.25],[339.5,1.15,0.6,0.1,0.8,0.35,1.3,-0.3],
  [342,0.7,1.05,0.5,1.3,0.2,0.9,-0.1],[344.5,0.3,0.9,1.2,0.6,0.75,1.05,0.05],[347,-0.3,0.55,1.0,0.85,1.25,0.35,-0.15],
  [349.5,0.95,-0.15,0.4,1.1,0.65,0.8,-0.35],[352,0.6,1.3,-0.35,0.8,0.25,1.05,0.45],[354.5,1.2,0.45,0.75,-0.2,1.0,0.3,0.6],
  [357,1.45,0.7,0.3,0.9,0.55,1.15,-0.3],[359.5,0.85,-0.4,1.15,0.5,0.65,0.25,0.95],[362,0.4,1.05,0.7,-0.25,0.95,0.55,-0.4],
  [364.5,1.25,0.6,-0.3,0.8,0.35,1.05,0.15],[367,0.75,0.2,1.0,-0.35,1.2,0.55,0.85],[369.5,0.5,0.9,1.3,0.65,0.1,-0.2,1.1],
  [372,1.1,0.35,0.8,0.55,0.95,0.2,1.25],[374.5,0.65,1.2,0.25,0.9,0.45,0.05,1.05],[377,-0.3,0.75,1.05,0.4,1.3,0.6,-0.45],
  [379.5,0.85,-0.5,0.6,1.15,0.3,0.95,-0.25],[382,0.45,0.95,-0.35,1.25,0.7,0.2,-0.5],[384.5,1.0,0.2,0.8,-0.45,0.55,1.2,0.35],
  [387,0.6,1.3,-0.25,0.9,0.35,0.7,-0.4],[389.5,-0.55,0.7,1.1,0.5,0.85,-0.3,0.25],[392,0.9,-0.3,0.4,1.2,0.65,0.1,-0.5],
  [394.5,0.25,1.05,0.75,-0.4,1.0,0.5,-0.2],[397,1.3,0.55,-0.2,0.85,0.45,0.65,-0.35],[399.5,0.7,0.15,1.15,0.6,0.95,-0.3,0.4],
  [402,0.4,0.9,1.25,0.05,0.75,0.6,1.1],[404.5,1.05,0.5,0.8,1.35,0.3,0.15,0.95],[407,0.65,1.2,0.2,0.95,0.55,0.8,1.3],
  [409.5,0.85,0.35,1.3,0.7,1.0,0.1,0.55],[412,0.25,1.1,0.6,0.9,0.45,1.3,0.75],[414.5,1.4,0.75,0.1,1.05,0.6,0.35,0.9],
  [417,1.55,0.5,0.85,1.2,0.3,0.65,1.0],[419.5,0.95,1.35,0.4,0.7,0.15,1.1,0.55],[422,0.55,1.0,1.25,0.35,0.8,0.65,0.1],
  [424.5,1.15,0.65,-0.1,0.9,0.45,1.25,0.3],[427,0.3,0.85,1.3,0.6,1.05,0.1,0.75],[429.5,0.9,0.2,0.7,1.2,0.5,0.35,1.0],
  [432,1.25,0.6,0.95,0.05,0.75,1.1,0.4],[434.5,0.4,1.1,0.55,0.85,1.35,0.2,0.65],[437,0.7,0.25,1.0,0.5,0.9,1.3,0.05],
  [439.5,1.3,0.45,0.8,1.15,-0.05,0.6,0.25],[442,0.6,1.05,0.35,0.75,1.2,0.1,0.9],[444.5,0.15,0.9,1.25,0.55,0.7,1.05,0.35],
  [447,0.95,0.4,0.65,1.1,0.3,0.8,-0.2],[449.5,0.5,1.2,-0.3,0.85,1.0,0.25,-0.45],[452,-0.55,0.75,0.35,1.3,0.6,-0.3,0.95],
  [454.5,1.62,1.4,-0.6,0.9,0.2,-0.4,0.65],[457,-0.4,0.55,1.1,0.8,1.25,-0.55,0.3],[459.5,0.85,0.3,1.0,0.6,1.2,0.05,0.45],
  [462,0.45,1.15,0.7,0.95,0.1,1.3,0.55],[464.5,1.05,0.6,1.3,0.35,0.8,0.15,0.95],[467,0.7,0.2,0.9,1.2,0.55,1.35,0.45],
  [469.5,0.3,1.0,0.65,0.85,1.35,0.1,0.5],[472,1.1,0.5,0.05,0.75,0.95,1.3,0.35],[474.5,0.6,1.25,0.85,0.4,1.05,0.2,0.7],
  [477,1.45,0.7,0.25,0.95,0.55,1.15,0.4],[479.5,0.8,0.35,1.15,0.6,1.3,0.1,0.95],[482,0.45,0.9,0.15,1.05,0.7,1.3,0.6],
  [484.5,1.2,0.55,0.85,-0.1,1.0,0.35,0.7],[487,-0.5,0.75,1.1,0.4,0.95,-0.3,1.3],[489.5,0.65,-0.3,1.3,0.8,0.3,0.1,1.0],
  [492,0.9,0.5,0.2,1.15,0.7,1.35,-0.1],[494.5,0.35,1.05,0.75,1.25,0.6,0.2,0.9],[497,1.0,0.6,0.85,0.25,1.2,0.45,-0.25],
  [499.5,0.55,0.95,-0.2,0.75,1.1,0.3,0.85]
];

const vesRows = [
  [0.0,-1.6,-1.75],[3.3,-1.55],[3.6,-1.65,-1.5],[3.9,-1.2,-1.25],[4.2,-1.3,-1.45],[4.5,-1.0,-1.4],[4.8,-0.75,-0.95],
  [5.1,-1.35,-1.6],[5.4,-1.55,-1.7],[5.7,-1.85,-1.6],[6.0,-2.0,-1.9],[6.3,-2.0,-1.95],[6.6,-1.75,-1.8],[7.5,-1.7],
  [7.8,-1.0,-0.85],[8.1,-0.8,-0.95],[8.4,-0.6,-0.75],[8.7,-0.9,-0.65],[9.0,-0.55,-1.0],[9.3,-0.55,-1.3],[9.6,-0.6,0.12],
  [9.9,0.55,0.7],[10.2,0.65,0.75,0.6],[10.5,0.5,0.8],[10.8,0.55,0.7],[11.1,0.9,1.0],[11.4,0.95,1.05],[11.7,1.1,1.0],
  [12.0,1.05,0.85],[12.3,1.15,1.2],[12.6,1.25,1.3],[12.9,1.2,1.35],[13.2,1.3,1.4],[13.5,1.35,1.45],[13.8,1.4,1.5],
  [14.1,1.45,1.35],[14.4,1.1,0.45],[14.7,0.4,0.35],[15.0,0.3,0.45],[15.3,0.25,0.4],[15.6,0.2,0.35],[15.9,0.3,0.15],
  [16.2,0.5,0.25],[16.5,0.55,0.2],[16.8,0.6,0.35],[17.1,0.1,0.75,0.4],[17.4,0.5,0.25],[17.7,0.6,0.45],[18.0,0.7,0.35],
  [18.3,0.65,0.55],[18.6,0.9,0.6],[18.9,0.85,1.05],[19.2,0.7,0.5],[19.5,0.2,0.3],[19.8,0.1,0.05],[20.1,0.0,0.15],
  [20.4,-0.05,0.05],[20.7,0.35,-0.1],[21.0,-0.15,0.45],[21.3,-0.2,0.3],[21.6,1.1,1.25],[21.9,1.5,1.55],[22.2,1.55,1.5],
  [22.5,1.5,1.45],[22.8,1.55,1.5],[23.1,1.45,1.5],[23.4,1.4,1.3],[23.7,1.25,1.15],[24.0,1.2,1.05],[24.3,1.0,1.1],
  [24.6,0.95,1.05],[24.9,1.1,0.85],[25.2,0.9,0.75],[25.5,0.8,0.95],[25.8,0.7,0.6],[26.1,0.5,0.35],[26.4,0.25,0.4],
  [26.7,-0.4],[27.0,-1.35,-1.55],[27.3,-1.6,-1.7],[27.6,-1.5,-1.75],[27.9,-1.8,-1.65],[28.2,-1.7,-1.9],[28.5,-1.85,-1.75],
  [28.8,-1.95,-1.8],[29.1,-1.75,-2.0],[29.4,-1.9,-2.0],[29.7,-1.95,-1.85],[30.0,-2.0,-1.9],[30.3,-1.85,-1.95],
  [30.6,-1.7,-1.6],[30.9,-1.65,-1.8],[31.2,-1.45,-1.55],[31.5,-1.3,-1.5],[31.8,-1.4,-1.6],[32.1,-1.35,-1.25],
  [32.4,-1.45,-1.2],[32.7,-1.3,-1.7],[33.0,-1.85],[34.0,-1.95],[35.2,-1.97],[36.5,-2.0,-1.98],[37.2,-1.7,-1.15],
  [37.5,-1.05,-1.2],[37.8,-1.1,-1.3],[38.1,-1.0,-1.25],[38.4,-1.15,-1.35],[38.7,-1.05,-1.2],[39.0,-1.3,-1.4],
  [39.3,-0.95,-1.1],[39.6,-1.25,-1.45],[39.9,-1.0,-1.15],[40.2,-1.3,-0.9],[40.5,-1.1,-1.2],[40.8,-0.95,-1.35],
  [41.1,-1.05,-1.5],[41.4,-0.9,-1.2],[41.7,-0.85,-1.0],[42.0,-1.7,-0.8],[42.3,-0.95,-1.1],[42.6,-0.75,-0.9],
  [42.9,-0.85,-1.05],[43.2,-0.7,-0.95],[43.5,-0.8,-1.0],[43.8,-0.75,-0.9],[44.1,-1.7,-1.8],[44.4,-1.75],
  [47.2,-1.7,-1.85],[47.5,-1.55,-1.9],[47.8,-1.4,-1.75],[48.1,-1.3,-1.6],[48.4,-1.45,-1.8],[48.7,-1.5,-1.95],
  [49.7,-1.35,-1.45],[50.0,-1.1],[50.3,-0.8,-0.5],[50.6,-0.6,-0.45],[50.9,-0.7,-0.55],[51.2,-0.5,-0.85],
  [51.5,-0.2,-0.6],[51.8,-0.1],[52.1,0.75,0.65],[52.4,0.8,0.6,0.7],[52.7,0.65,0.55],[53.0,0.85,0.7],
  [53.3,0.6,0.75,0.8],[53.6,0.7,0.55],[53.9,0.9,0.65],[54.2,0.75,0.45],[54.5,0.6,0.8],[54.8,0.7,0.85],
  [55.1,0.5,0.65,0.95],[55.4,0.6,0.75],[55.7,0.4,0.55],[56.0,0.7,0.85],[56.3,0.9,1.0],[56.6,0.8,0.95],
  [56.9,0.85,1.0],[57.2,0.95,0.8],[57.5,1.0,0.9],[57.8,0.85,0.95],[58.1,1.0,1.05],[58.4,0.9,0.95],[58.7,1.0,0.85],
  [59.1,0.95,1.0],[59.4,0.85,1.0],[59.7,1.05,0.95],[60.0,1.35,1.25],[60.3,0.85,0.7],[60.6,0.45,0.35],[60.9,0.4,0.3],
  [61.2,0.5,0.25],[61.5,0.35,0.45],[61.8,0.2,0.3],[62.1,0.4,0.25],[62.4,0.3,0.15],[62.7,0.45,0.2],[63.0,0.55,0.3],
  [63.3,0.65,0.4],[63.6,0.25,0.1],[63.9,0.7,0.35],[64.2,0.6,0.05],[64.5,1.1,1.2],[64.8,1.4,1.5],[65.1,1.55,1.6],
  [65.4,1.5,1.6],[65.7,1.55,1.45],[66.0,1.6,1.5],[66.3,1.55,1.6],[66.6,1.45,1.55],[66.9,1.6,1.5],[67.2,1.55,1.65],
  [67.5,1.5,1.6],[67.8,1.45,1.55],[68.1,1.6,1.5],[68.4,1.55,1.65],[68.7,1.5,1.6],[69.0,1.6,1.55],[69.3,1.45,1.65],
  [69.6,1.6,1.5],[69.9,1.55,1.65],[70.2,1.4,1.3],[70.5,1.35,1.25],[70.8,1.2,1.15],[71.1,1.25,1.1],[71.4,1.05,1.15],
  [71.7,1.0,1.1],[72.0,0.7,0.75],[72.3,0.65,0.7],[72.9,-0.05,0.05],[73.2,-0.1,0.0],[73.5,-0.15,0.05],[73.8,-0.2,-0.05],
  [74.1,-0.1,-0.25],[74.4,-0.15,-0.3],[74.7,-0.05,-0.2],[75.0,-0.25,-0.1],[75.3,-0.2,-0.3],[75.6,-0.35,-0.25],
  [76.0,-0.95],[76.6,-1.5,-1.65],[76.9,-1.35,-1.75],[77.2,-1.6,-1.8],[77.5,-1.7,-1.55],[77.8,-1.85,-1.65],
  [78.1,-1.75,-1.9],[78.4,-1.6,-1.8],[78.7,-1.9,-1.7],[79.0,-1.8,-1.95],[79.3,-1.65,-1.85],[79.6,-1.9,-2.0],
  [79.9,-1.75,-1.95],[80.2,-1.85,-1.6],[80.5,-1.55,-1.95],[80.8,-1.7,-2.0],[81.1,-1.6,-1.45],[81.4,-1.5,-1.7],
  [81.7,-1.35,-1.55],[82.0,-1.15,-1.6],[82.3,-1.4,-1.25],[82.6,-1.5,-1.3],[82.9,-1.2,-1.45],[83.2,-1.35,-1.1],
  [83.5,-0.9,-1.25],[83.8,-1.4,-1.05],[84.1,-0.85,-1.15],[84.4,-0.75,-1.0],[84.7,-1.2,-0.95],[85.0,-1.0,-0.8],
  [85.3,-1.3,-0.9],[85.6,-0.7,-1.1],[85.9,-1.25,-1.05],[86.2,-0.95,-1.35],[86.5,-0.65,-0.85],[86.8,-0.75,-1.0],
  [87.1,-0.8,-0.9],[87.4,-0.7,-1.05],[87.7,-1.15,-0.85],[88.0,-0.75,-1.4],[88.3,-1.3,-0.9],[88.6,-1.6,-1.55],
  [89.2,-1.9,-1.95],[89.8,-1.95,-2.0],[90.5,-1.97],[92.0,-1.8],[92.6,-1.85],[93.2,-1.95,-1.9],[93.6,-1.85,-2.0],
  [94.2,-1.75],[94.6,-1.6,-1.5],[94.9,-1.3,-1.4],[95.2,-1.1,-0.95],[95.5,-0.6,-0.75],[95.8,-0.8,-0.55],
  [96.1,-0.65,-0.85],[96.4,-0.9,-1.0],[96.7,-0.7,-1.3],[97.0,-0.6,-1.2],[97.3,-0.8,-0.95],[97.6,-0.65,-0.75],
  [97.9,-0.85,-0.6],[98.2,-0.7,-0.9],[98.5,-0.55,-0.8],[98.8,-0.75,-1.0],[99.1,-0.65,-0.85],[99.4,-0.6,-0.7],
  [99.7,-0.8,-1.35],[100.0,-0.55,-0.75]
];

const FONT = '"Liberation Sans", Arial, sans-serif';
Chart.defaults.font.family = FONT;
Chart.defaults.font.size = 20;
Chart.defaults.color = '#000';

function toPoints(rows) {
  return rows.flatMap(r => r.slice(1).map(v => ({ x: r[0], y: v })));
}

// frame, inward tick marks and the panel captions
const framePlugin = {
  id: 'frame',
  afterDatasetsDraw(chart, args, opts) {
    const { ctx, chartArea: a, scales: { x, y } } = chart;
    ctx.save();
    ctx.strokeStyle = '#000';
    ctx.lineWidth = 1.5;
    ctx.beginPath();
    x.ticks.forEach(t => {
      const px = Math.round(x.getPixelForValue(t.value)) + 0.5;
      ctx.moveTo(px, a.bottom); ctx.lineTo(px, a.bottom - 6);
    });
    y.ticks.forEach(t => {
      const py = Math.round(y.getPixelForValue(t.value)) + 0.5;
      ctx.moveTo(a.left, py); ctx.lineTo(a.left + 6, py);
    });
    ctx.stroke();
    ctx.lineWidth = 2;
    ctx.strokeRect(a.left, a.top, a.right - a.left, a.bottom - a.top);
    ctx.fillStyle = '#000';
    ctx.textBaseline = 'middle';
    ctx.textAlign = 'left';
    ctx.font = 'bold 20px ' + FONT;
    ctx.fillText(opts.tag, a.left + 17, a.top + 19);
    ctx.font = '21.4px ' + FONT;
    ctx.textAlign = 'right';
    ctx.fillText(opts.note, a.right - 12, opts.noteBottom ? a.bottom - 19 : a.top + 19);
    ctx.restore();
  }
};

function makePanel(id, rows, color, timeRange, timeStep, box, tag, note, noteBottom) {
  return new Chart(document.getElementById(id), {
    type: 'scatter',
    data: {
      datasets: [{
        data: toPoints(rows),
        backgroundColor: color,
        borderWidth: 0,
        pointRadius: 3.2,
        pointHoverRadius: 3.2
      }]
    },
    options: {
      responsive: false,
      animation: false,
      events: [],
      layout: { padding: box.pad },
      plugins: {
        legend: { display: false },
        tooltip: { enabled: false },
        frame: { tag: tag, note: note, noteBottom: noteBottom }
      },
      scales: {
        x: {
          type: 'linear',
          min: timeRange[0], max: timeRange[1],
          grid: { display: false, drawTicks: false },
          border: { display: false },
          ticks: { stepSize: timeStep, padding: 15, maxRotation: 0 },
          title: { display: true, text: 'time (ps)', padding: { top: 0, bottom: box.xTitlePad } },
          afterFit: s => { s.height = box.xHeight; s.paddingLeft = 0; s.paddingRight = 0; }
        },
        y: {
          min: chiRange[0], max: chiRange[1],
          grid: { display: false, drawTicks: false },
          border: { display: false },
          ticks: { stepSize: chiStep, padding: 20 },
          title: { display: true, text: 'χ (Å)', padding: { top: box.yTitlePad, bottom: 0 } },
          afterFit: s => { s.width = box.yWidth; s.paddingTop = 0; s.paddingBottom = 0; }
        }
      }
    },
    plugins: [framePlugin]
  });
}

makePanel('panelA', jarzynskiRows, '#0000FF', shortTime, shortStep,
  { pad: { left: 0, top: 15, right: 33, bottom: 0 }, yWidth: 76, xHeight: 77, xTitlePad: 10, yTitlePad: 14 },
  'a', 'reweighted Jarzynski sampling', false);
makePanel('panelC', metadynamicsRows, '#C00000', shortTime, shortStep,
  { pad: { left: 0, top: 15, right: 21, bottom: 0 }, yWidth: 83, xHeight: 77, xTitlePad: 10, yTitlePad: 19 },
  'c', 'metadynamics', false);
makePanel('panelB', opesRows, '#00B050', longTime, longStep,
  { pad: { left: 0, top: 19, right: 30, bottom: 0 }, yWidth: 79, xHeight: 71, xTitlePad: 2, yTitlePad: 10 },
  'b', 'OPES', true);
makePanel('panelD', vesRows, '#7030A0', shortTime, shortStep,
  { pad: { left: 0, top: 19, right: 18, bottom: 0 }, yWidth: 87, xHeight: 71, xTitlePad: 2, yTitlePad: 18 },
  'd', 'VES', false);
</script>
</body>
</html>
